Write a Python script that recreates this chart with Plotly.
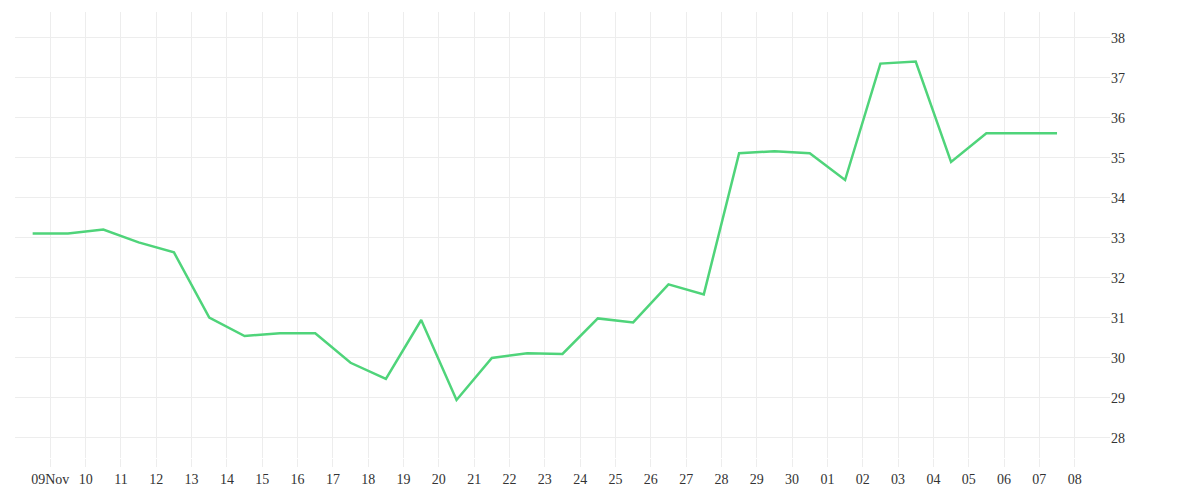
import plotly.graph_objects as go
import pandas as pd

# daily values, plotted at noon of each day
dates = pd.date_range("2023-11-08 12:00", periods=30, freq="D")
values = [33.10, 33.10, 33.20, 32.88, 32.63, 31.00, 30.54, 30.61, 30.61, 29.87,
          29.47, 30.94, 28.94, 29.99, 30.11, 30.09, 30.98, 30.88, 31.83, 31.58,
          35.11, 35.16, 35.11, 34.44, 37.35, 37.40, 34.89, 35.61, 35.61, 35.61]

tick_dates = pd.date_range("2023-11-09", "2023-12-08", freq="D")
tick_labels = ["09Nov"] + [d.strftime("%d") for d in tick_dates[1:]]

fig = go.Figure(go.Scatter(
    x=dates, y=values, mode="lines",
    line={"color": "#4fd47a", "width": 2.5},
))

grid = "#ededed"
fig.update_xaxes(
    range=["2023-11-08", "2023-12-09"],
    tickvals=tick_dates, ticktext=tick_labels,
    showgrid=True, gridcolor=grid, gridwidth=1,
    ticks="outside", ticklen=8, tickcolor=grid,
    showline=False, zeroline=False,
)
fig.update_yaxes(
    range=[27.49, 38.64], side="right", dtick=1,
    showgrid=True, gridcolor=grid, gridwidth=1,
    zeroline=False, showline=False, ticks="",
)
fig.update_layout(
    width=1200, height=500,
    margin={"l": 7, "r": 98, "t": 4, "b": 50},
    plot_bgcolor="white", paper_bgcolor="white",
    font={"family": "Liberation Serif", "size": 14, "color": "#333"},
    showlegend=False,
)

fig.write_html("out.html")
